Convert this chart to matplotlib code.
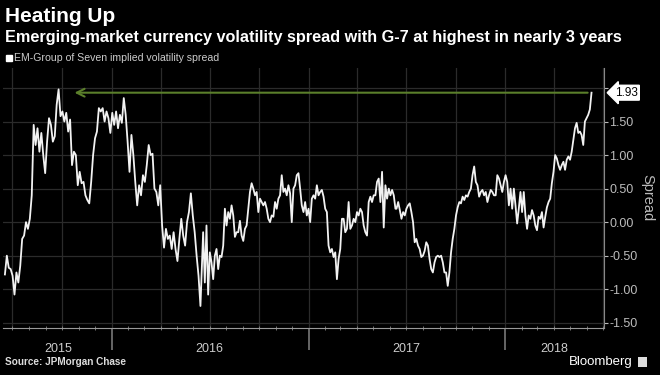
import matplotlib
matplotlib.use('Agg')
import matplotlib.pyplot as plt
import matplotlib.dates as mdates
import matplotlib.transforms as mtransforms
from matplotlib.patches import Rectangle
from matplotlib.ticker import NullFormatter
import pandas as pd

plt.rcParams['font.family'] = ['Liberation Sans', 'DejaVu Sans']

# spread values, in three stretches of roughly even spacing
seg1 = [-0.78, -0.5, -0.68, -0.70, -0.8, -1.08, -0.75, -0.9, -0.65, -0.25, -0.2, 0, -0.1, 0.05, 0.4,
        1.45, 1.15, 1.4, 1.05, 1.33, 1.0, 0.73, 1.2, 1.55, 1.45, 1.2, 1.28, 1.75, 1.98, 1.58, 1.65,
        1.5, 1.63, 1.35, 1.53, 0.85, 1.05, 1.0, 0.55, 0.75, 0.58, 0.6, 0.4, 0.33, 0.28, 0.6, 1.0,
        1.25, 1.35, 1.7, 1.65, 1.7, 1.5, 1.65, 1.55, 1.33, 1.63, 1.45, 1.65, 1.4, 1.6, 1.48, 1.85,
        1.6, 1.2, 0.75, 1.3, 1.0, 0.6, 0.25, 0.55, 0.4, 0.7, 0.6, 0.85, 1.15, 1.0, 1.02, 0.5, 0.45,
        0.25, 0.55, -0.05, -0.38, -0.1, -0.25, -0.2, -0.4, -0.15, -0.4, -0.58, -0.25, 0.05, -0.2,
        -0.35, 0, 0.15, 0.43, 0.1, -0.15, -0.5, -0.8, -1.25]
seg2 = [-0.15, -0.9, -0.05, -1.08, -0.45, -0.6, -0.85, -0.5, -0.4, -0.7, -0.5, -0.52, -0.35, 0.2,
        -0.05, 0.15, 0.05, 0.25, 0.1, -0.22, -0.15, -0.15, 0.02, -0.2, -0.28, -0.1, -0.05, 0.2,
        0.45, 0.58, 0.5, 0.4, 0.45, 0.15, 0.35, 0.3, 0.25, 0.3, 0.2, 0.05, 0, 0.1, 0.08, 0.3, 0.2,
        0.35, 0.4, 0.7, 0.45, 0.5, 0.4, 0.55, 0.43, 0, 0.5, 0.55, 0.7, 0.73, 0.5, 0.25, 0.15, 0.3,
        0.1, 0.2, 0, 0.35, 0.4, 0.35, 0.55, 0.4, 0.45, 0.48, 0.38, 0.2, 0.15, -0.35, -0.45, -0.4,
        -0.52, -0.45, -0.85, -0.55, -0.4, 0.05, 0.05, -0.15, -0.1, 0.3, -0.1, -0.05, 0.05, 0, 0.15,
        0.1, 0.2, 0.15, -0.05, -0.15, -0.2, 0.3, 0.38, 0.3, 0.4, 0.4, 0.6, 0.65, 0.3, 0.75, -0.08,
        0.55, 0.35, 0.5, 0.4, 0.48, 0.4, 0.2]
seg3 = [0.2, 0.3, 0.18, 0.05, 0.15, 0.1, 0.2, 0.25, 0.28, 0.15, 0, -0.3, -0.25, -0.35, -0.4, -0.52,
        -0.5, -0.43, -0.3, -0.35, -0.55, -0.7, -0.75, -0.6, -0.52, -0.5, -0.52, -0.5, -0.6, -0.75,
        -0.75, -0.95, -0.75, -0.45, -0.25, -0.1, 0.1, 0.22, 0.3, 0.28, 0.38, 0.33, 0.4, 0.38, 0.45,
        0.5, 0.7, 0.83, 0.6, 0.55, 0.38, 0.45, 0.48, 0.4, 0.45, 0.3, 0.4, 0.48, 0.45, 0.4, 0.4, 0.7,
        0.65, 0.55, 0.45, 0.6, 0.7, 0.6, 0.25, 0.5, 0.2, 0.5, 0.25, -0.02, 0.2, 0.45, 0.15, 0.45,
        0.1, -0.1, 0.1, 0.05, 0.18, 0.1, -0.05, -0.12, 0.08, 0.05, 0.15, -0.08, 0.08, 0.22, 0.3,
        0.35, 0.58, 0.75, 1.0, 0.95, 0.85, 0.78, 0.85, 0.9, 0.78, 0.93, 0.98, 0.93, 1.05, 1.23, 1.4,
        1.48, 1.33, 1.35, 1.3, 1.15, 1.5, 1.55, 1.6, 1.68, 1.93]
seg_spans = [('2015-06-17', '2016-06-14'), ('2016-06-19', '2017-06-11'), ('2017-06-13', '2018-06-10')]

yticks = [-1.5, -1.0, -0.5, 0.0, 0.5, 1.0, 1.5, 2.0]
years = ['2015', '2016', '2017', '2018']
year_centers = ['2015-09-24', '2016-07-01', '2017-07-02', '2018-04-02']
last_value = 1.93

dates = []
values = []
for seg, (d0, d1) in zip([seg1, seg2, seg3], seg_spans):
    dates += list(pd.date_range(d0, d1, periods=len(seg)))
    values += seg

fig = plt.figure(figsize=(6.6, 3.75), dpi=100, facecolor='black')
ax = fig.add_axes([0.005, 0.125, 0.91, 0.694])
ax.set_facecolor('black')

grid_c = '#2b2b2b'
for v in yticks:
    ax.axhline(v, color=grid_c, lw=0.9, zorder=0)
for d in pd.date_range('2015-07-01', '2018-07-01', freq='QS'):
    ax.axvline(d, color=grid_c, lw=0.9, zorder=0)

ax.plot(dates, values, color='#f2f2f2', lw=1.3, zorder=3)

ax.set_xlim(pd.Timestamp('2015-06-14'), pd.Timestamp('2018-07-03'))
ax.set_ylim(-1.58, 2.30)

# axes styling
for s in ['left', 'top']:
    ax.spines[s].set_visible(False)
ax.spines['right'].set_color('#888888')
ax.spines['bottom'].set_color('#999999')
ax.yaxis.tick_right()
ax.yaxis.set_label_position('right')
ax.set_yticks(yticks)
# the 2.00 label sits under the last-value box
ax.set_yticklabels(['' if v == 2.0 else '%.2f' % v for v in yticks])
ax.tick_params(axis='y', colors='#bbbbbb', labelsize=9, length=3, width=0.8, pad=1)
ax.set_ylabel('Spread', rotation=270, color='#bbbbbb', fontsize=10.5, labelpad=12)

ax.xaxis.set_major_locator(mdates.YearLocator())
ax.xaxis.set_major_formatter(NullFormatter())
ax.xaxis.set_minor_locator(mdates.MonthLocator())
ax.tick_params(axis='x', which='major', length=16, color='#777777', width=1.2)
ax.tick_params(axis='x', which='minor', length=3, color='#888888', direction='inout')

trans = mtransforms.blended_transform_factory(ax.transData, ax.transAxes)
for yr, c in zip(years, year_centers):
    ax.text(pd.Timestamp(c), -0.08, yr, transform=trans, ha='center', va='center',
            color='#cccccc', fontsize=9)

# arrow back to the 2015 high
ax.annotate('', xy=(pd.Timestamp('2015-10-19'), last_value),
            xytext=(pd.Timestamp('2018-06-08'), last_value),
            arrowprops=dict(arrowstyle='->', color='#5b7f2b', lw=1.5, mutation_scale=14),
            zorder=2)
ax.annotate('%.2f' % last_value, xy=(1.0, last_value), xycoords=('axes fraction', 'data'),
            xytext=(8, 0), textcoords='offset points', ha='left', va='center',
            fontsize=8.5, color='black', annotation_clip=False, zorder=5,
            bbox=dict(boxstyle='larrow,pad=0.12', fc='white', ec='white'))

# header and footer
fig.text(0.008, 0.955, 'Heating Up', fontsize=15, weight='bold', color='white', va='center')
fig.text(0.008, 0.9, 'Emerging-market currency volatility spread with G-7 at highest in nearly 3 years',
         fontsize=11.7, weight='bold', color='white', va='center')
fig.add_artist(Rectangle((0.009, 0.837), 0.009, 0.016, color='white', transform=fig.transFigure))
fig.text(0.021, 0.845, 'EM-Group of Seven implied volatility spread', fontsize=7.6,
         color='#cccccc', va='center')
fig.text(0.008, 0.035, 'Source: JPMorgan Chase', fontsize=7.2, weight='bold', color='#dddddd', va='center')
fig.text(0.958, 0.035, 'Bloomberg', fontsize=9.5, color='white', ha='right', va='center')
fig.add_artist(Rectangle((0.966, 0.022), 0.014, 0.026, fc='#dddddd', ec='none', transform=fig.transFigure))

fig.savefig('out.png', dpi=100, facecolor='black')
